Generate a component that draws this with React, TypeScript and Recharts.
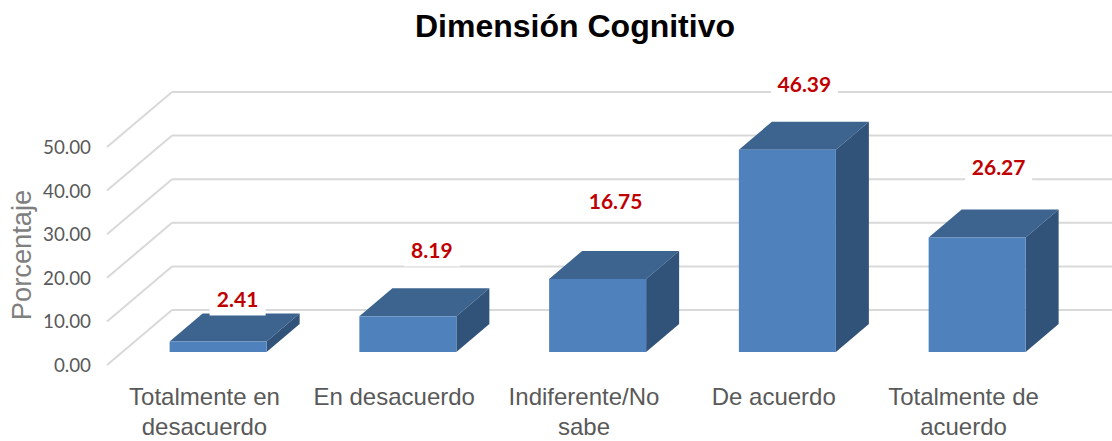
import React from "react"
import { Bar, BarChart, CartesianGrid, LabelList, XAxis, YAxis } from "recharts"

const categories = [
  "Totalmente en\ndesacuerdo",
  "En desacuerdo",
  "Indiferente/No\nsabe",
  "De acuerdo",
  "Totalmente de\nacuerdo",
]
const values = [2.41, 8.19, 16.75, 46.39, 26.27]
const yTicks = [0, 10, 20, 30, 40, 50]

const data = categories.map((name, i) => ({ name, value: values[i] }))

const DEPTH_X = 33
const DEPTH_Y = 28
const GREY = "#595959"
const GRID = "#d9d9d9"
const CHART_FONT = "Lato, sans-serif"
const AXIS_FONT = "'Liberation Sans', Arial, sans-serif"

// hand placed in the original, so each label gets its own nudge from the bar top
const labelNudgeX = [19.5, 24, 18, 17, 21.5]
const labelNudgeY = [-43, -67, -78, -66, -71]

function Box3D({ x, y, width, height }: any) {
  const dx = DEPTH_X
  const dy = DEPTH_Y
  return (
    <g>
      <path
        d={`M${x},${y} L${x + dx},${y - dy} L${x + width + dx},${y - dy} L${x + width},${y} Z`}
        fill="#3c648f"
      />
      <path
        d={`M${x + width},${y} L${x + width + dx},${y - dy} L${x + width + dx},${y + height - dy} L${x + width},${y + height} Z`}
        fill="#31537a"
      />
      <rect x={x} y={y} width={width} height={height} fill="#4f81bd" />
    </g>
  )
}

function GridLine({ x1, y1 }: any) {
  const backX = x1 + 48.4
  const backY = y1 - 42
  return (
    <g stroke={GRID} strokeWidth={2} fill="none">
      <line x1={backX} y1={backY} x2={1112} y2={backY} />
      <line x1={backX} y1={backY} x2={backX - 65} y2={backY + 55} />
    </g>
  )
}

function YTick({ y, payload }: any) {
  return (
    <text x={91} y={y + 12.5} textAnchor="end" dominantBaseline="central" fontFamily={CHART_FONT} fontSize={18.8} fill={GREY}>
      {payload.value.toFixed(2)}
    </text>
  )
}

function XTick({ x, payload }: any) {
  const lines = String(payload.value).split("\n")
  return (
    <text textAnchor="middle" fontFamily={AXIS_FONT} fontSize={24} fill={GREY}>
      {lines.map((line, i) => (
        <tspan key={i} x={x - 14} y={405 + i * 30}>
          {line}
        </tspan>
      ))}
    </text>
  )
}

function ValueLabel({ x, y, width, value, index }: any) {
  const cx = x + width / 2 + labelNudgeX[index]
  const cy = y + labelNudgeY[index]
  const text = Number(value).toFixed(2)
  const boxW = text.length * 11 + 12
  return (
    <g>
      <rect x={cx - boxW / 2} y={cy - 17} width={boxW} height={34} fill="#ffffff" />
      <text x={cx} y={cy} textAnchor="middle" dominantBaseline="central" fontFamily={CHART_FONT} fontWeight={700} fontSize={21} fill="#c00000">
        {text}
      </text>
    </g>
  )
}

export default function App() {
  return (
    <div style={{ position: "absolute", left: 0, top: 0, width: 1112, height: 441, background: "#ffffff", overflow: "hidden" }}>
      <div
        style={{
          position: "absolute",
          left: 0,
          top: 6,
          width: 1150,
          textAlign: "center",
          fontFamily: AXIS_FONT,
          fontWeight: 700,
          fontSize: 32,
          lineHeight: "40px",
          color: "#000000",
        }}
      >
        Dimensión Cognitivo
      </div>
      <div
        style={{
          position: "absolute",
          left: 22,
          top: 255,
          transform: "translate(-50%, -50%) rotate(-90deg)",
          fontFamily: AXIS_FONT,
          fontSize: 27.3,
          color: "#7f7f7f",
          whiteSpace: "nowrap",
        }}
      >
        Porcentaje
      </div>
      <BarChart
        width={1112}
        height={441}
        data={data}
        barSize={97}
        margin={{ top: 134, right: 39.6, bottom: 88, left: 63.6 }}
        style={{ position: "absolute", left: 0, top: 0 }}
      >
        <CartesianGrid vertical={false} horizontal={(props: any) => <GridLine key={props.key ?? props.index} {...props} />} />
        <XAxis dataKey="name" height={1} interval={0} axisLine={false} tickLine={false} tick={<XTick />} />
        <YAxis width={60} domain={[0, 50]} ticks={yTicks} axisLine={false} tickLine={false} tick={<YTick />} />
        <Bar dataKey="value" shape={<Box3D />} isAnimationActive={false}>
          <LabelList dataKey="value" content={<ValueLabel />} />
        </Bar>
      </BarChart>
    </div>
  )
}
